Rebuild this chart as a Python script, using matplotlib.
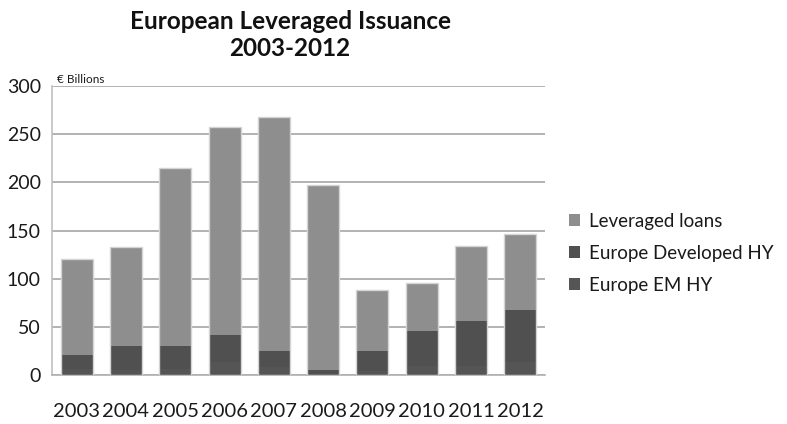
import numpy as np
import matplotlib
matplotlib.use("Agg")
import matplotlib.pyplot as plt

plt.rcParams['font.family'] = ['Lato', 'DejaVu Sans']

years = ['2003', '2004', '2005', '2006', '2007', '2008', '2009', '2010', '2011', '2012']
em_hy = [6, 5, 6, 14, 8, 1, 4, 9, 9, 13]
dev_hy = [15, 25, 24, 28, 17, 4, 21, 37, 47, 54]
loans = [99, 103, 185, 215, 243, 192, 63, 50, 78, 79]

x = np.arange(len(years))
fig = plt.figure(figsize=(7.87, 4.24), dpi=100)
ax = fig.add_axes([52 / 787, 1 - 375 / 424, 493 / 787, 289 / 424])

w = 0.65
ax.bar(x, em_hy, w, color='#555555', linewidth=0,
       label='Europe EM HY', zorder=3)
ax.bar(x, dev_hy, w, bottom=em_hy, color='#505050', linewidth=0,
       label='Europe Developed HY', zorder=3)
bottom2 = np.array(em_hy) + np.array(dev_hy)
ax.bar(x, loans, w, bottom=bottom2, color='#8e8e8e', linewidth=0,
       label='Leveraged loans', zorder=3)
# light outline round each whole bar
ax.bar(x, bottom2 + np.array(loans), w, fill=False, edgecolor='#d4d4d4',
       linewidth=1.0, zorder=4)

ax.set_xlim(-0.5, 9.5)
ax.set_ylim(0, 300)
ax.set_yticks(range(0, 301, 50))
ax.set_xticks(x)
ax.set_xticklabels(years)
ax.tick_params(axis='x', length=0, pad=20, labelsize=14.5, colors='#1a1a1a')
ax.tick_params(axis='y', length=0, pad=8, labelsize=14, colors='#1a1a1a')
ax.yaxis.grid(True, color='#a6a6a6', linewidth=1.2)
ax.set_axisbelow(True)
for s in ['top', 'right']:
    ax.spines[s].set_visible(False)
ax.spines['left'].set_color('#c0c0c0')
ax.spines['bottom'].set_color('#b0b0b0')
ax.spines['left'].set_linewidth(1.2)
ax.spines['bottom'].set_linewidth(1.2)

ax.text(0.01, 1.002, '€ Billions', transform=ax.transAxes, fontsize=8.5,
        va='bottom', ha='left', color='#1a1a1a')

fig.text(290 / 787, 1 - 35 / 424, 'European Leveraged Issuance\n2003-2012',
         ha='center', va='center', fontsize=17.5, fontweight='bold',
         linespacing=1.2, color='#111111')

handles, labels = ax.get_legend_handles_labels()
leg = fig.legend(handles[::-1], labels[::-1], loc='center left',
                 bbox_to_anchor=(552 / 787, 1 - 253 / 424), frameon=False,
                 fontsize=13.5, handlelength=0.6, handleheight=0.6,
                 handletextpad=0.45, labelspacing=0.8)
for t in leg.get_texts():
    t.set_color('#1a1a1a')

fig.savefig('out.png', dpi=100)
